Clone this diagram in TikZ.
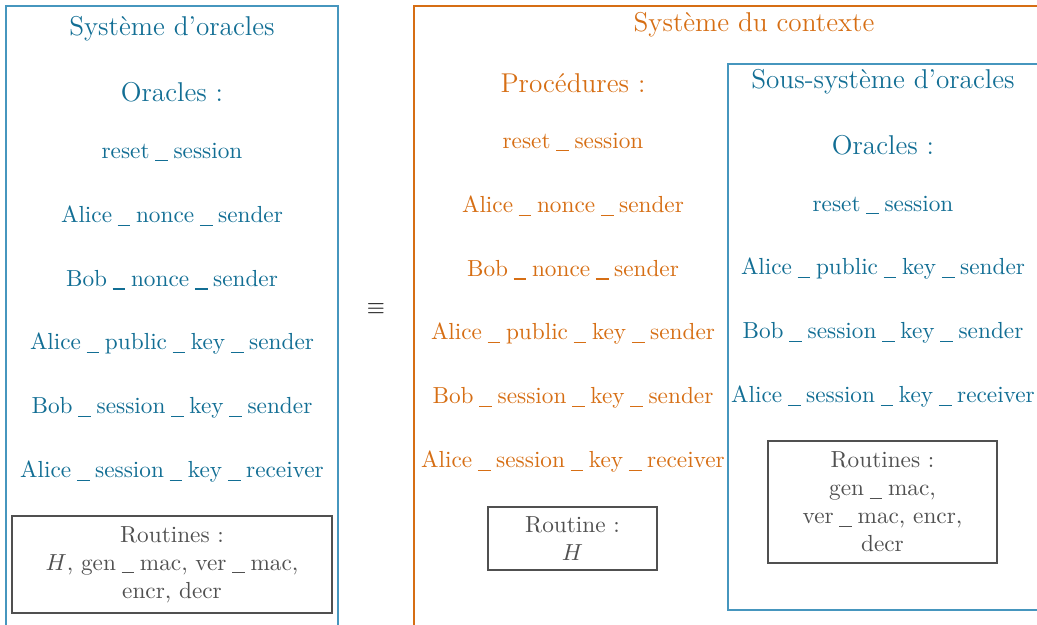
\documentclass[tikz,border=0pt]{standalone}
\usepackage{fontspec}
\definecolor{cblue}{RGB}{18,110,148}
\definecolor{cblueb}{RGB}{70,150,190}
\definecolor{corange}{RGB}{214,110,20}
\definecolor{cgray}{RGB}{80,80,80}
\newcommand{\usc}{\kern0.24em\rule[-0.3ex]{0.55em}{0.5pt}\kern0.24em}
\tikzset{
  px/.style={x=0.43pt,y=-0.43pt},
  bluetxt/.style={text=cblue,inner sep=0pt,anchor=center},
  orgtxt/.style={text=corange,inner sep=0pt,anchor=center},
  titletxt/.style={font=\fontsize{11.7}{14}\selectfont},
  routbox/.style={draw=cgray,text=cgray,align=center,inner sep=0pt,line width=0.5pt},
  bluebox/.style={draw=cblueb,line width=0.6pt},
  orgbox/.style={draw=corange,line width=0.6pt},
}
\begin{document}
\begin{tikzpicture}[px]
\clip (0,0) rectangle (1037,625);
\useasboundingbox (0,0) rectangle (1037,625);
% left system
\draw[bluebox] (6,6) rectangle (338,660);
\node[bluetxt,titletxt] (t1) at (172,29) {Système d’oracles};
\node[bluetxt,titletxt] (o1) at (172,92) {Oracles :};
\node[bluetxt] (l1) at (172,152) {reset\usc session};
\node[bluetxt] (l2) at (172,216) {Alice\usc nonce\usc sender};
\node[bluetxt] (l3) at (172,280) {Bob\usc nonce\usc sender};
\node[bluetxt] (l4) at (172,344) {Alice\usc public\usc key\usc sender};
\node[bluetxt] (l5) at (172,408) {Bob\usc session\usc key\usc sender};
\node[bluetxt] (l6) at (172,472) {Alice\usc session\usc key\usc receiver};
\node[routbox,minimum width=320*0.43pt,minimum height=97*0.43pt] (r1) at (172,564.5)
  {Routines :\\ $H$, gen\usc mac, ver\usc mac,\\ encr, decr};
% equivalence
\node[inner sep=0pt] (eq) at (376,309) {$\equiv$};
% context system
\draw[orgbox] (414,6) rectangle (1060,660);
\node[orgtxt,titletxt] (t2) at (754,25) {Système du contexte};
\node[orgtxt,titletxt] (p2) at (573,83) {Procédures :};
\node[orgtxt] (m1) at (573,142) {reset\usc session};
\node[orgtxt] (m2) at (573,206) {Alice\usc nonce\usc sender};
\node[orgtxt] (m3) at (573,270) {Bob\usc nonce\usc sender};
\node[orgtxt] (m4) at (573,334) {Alice\usc public\usc key\usc sender};
\node[orgtxt] (m5) at (573,398) {Bob\usc session\usc key\usc sender};
\node[orgtxt] (m6) at (573,462) {Alice\usc session\usc key\usc receiver};
\node[routbox,minimum width=169*0.43pt,minimum height=63*0.43pt] (r2) at (572.5,538.5)
  {Routine :\\ $H$};
% sub system
\draw[bluebox] (728,64) rectangle (1060,610);
\node[bluetxt,titletxt] (t3) at (883,82) {Sous-système d’oracles};
\node[bluetxt,titletxt] (o3) at (883,145) {Oracles :};
\node[bluetxt] (s1) at (883,205) {reset\usc session};
\node[bluetxt] (s2) at (883,269) {Alice\usc public\usc key\usc sender};
\node[bluetxt] (s3) at (883,333) {Bob\usc session\usc key\usc sender};
\node[bluetxt] (s4) at (883,397) {Alice\usc session\usc key\usc receiver};
\node[routbox,minimum width=229*0.43pt,minimum height=122*0.43pt] (r3) at (882.5,502)
  {Routines :\\ gen\usc mac,\\ ver\usc mac, encr,\\ decr};
\end{tikzpicture}
\end{document}
